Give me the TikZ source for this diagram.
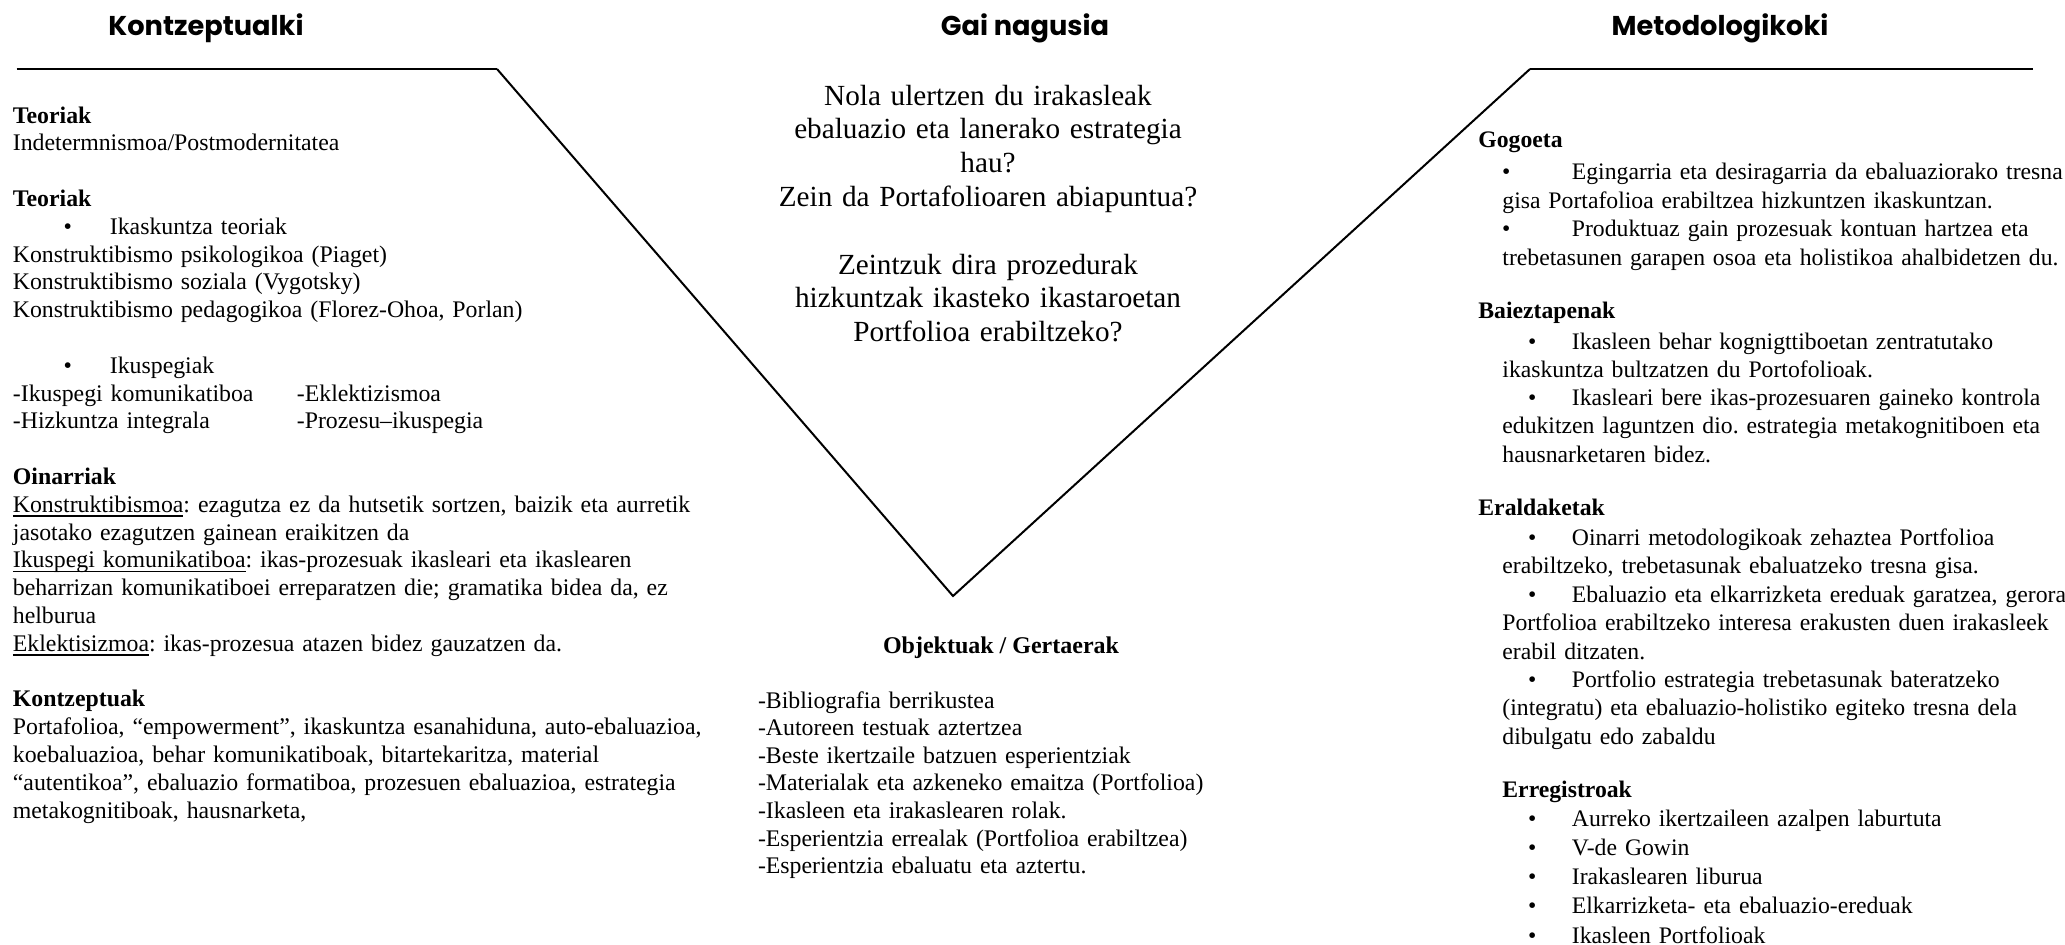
\documentclass[tikz,border=0pt]{standalone}
\usepackage{fontspec}
\setmainfont{Liberation Serif}
\newfontfamily\titlefont{Poppins}
\frenchspacing
\newlength\myulw
\newcommand\myul[1]{\leavevmode\settowidth{\myulw}{#1}\rlap{\rule[-2.2pt]{\myulw}{0.7pt}}#1}
\newcommand\lbul{\hspace*{25.4pt}\makebox[23.1pt][l]{\textbullet}}
\newcommand\rbulA{\hspace*{11.8pt}\makebox[34.95pt][l]{\textbullet}}
\newcommand\rbulB{\hspace*{24.9pt}\makebox[21.85pt][l]{\textbullet}}
\newcommand\rind{\hspace*{12pt}}
\begin{document}
\begin{tikzpicture}[x=0.5pt,y=-0.5pt,
  titletext/.style={font=\titlefont\bfseries\fontsize{13.6}{16}\selectfont, inner sep=0, anchor=base},
  bodytext/.style={font=\frenchspacing\fontsize{11.9}{13.9}\selectfont, inner sep=0, anchor=base west, align=left, text width=360pt},
  righttext/.style={inner sep=0, anchor=base west, align=left, text width=320pt},
  hline/.style={line width=1.25pt},
  vline/.style={line width=1pt}]
\fill[white] (0,0) rectangle (2065,944);
\useasboundingbox (0,0) rectangle (2065,944);

% V shape
\coordinate (A) at (16.5,69);
\coordinate (B) at (497,69);
\coordinate (C) at (953,596);
\coordinate (D) at (1530,69);
\coordinate (E) at (2033,69);
\draw[hline] (A) -- (B);
\draw[vline] (B) -- (C) -- (D);
\draw[hline] (D) -- (E);

% titles
\node[titletext] (t1) at (206,35) {Kontzeptualki};
\node[titletext] (t2) at (1025,35) {Gai nagusia};
\node[titletext] (t3) at (1720,35) {Metodologikoki};

% left column
\node[bodytext] (left) at (12.5,123) {%
\textbf{Teoriak}\\
Indetermnismoa/Postmodernitatea\\[\baselineskip]
\textbf{Teoriak}\\
\lbul Ikaskuntza teoriak\\
Konstruktibismo psikologikoa (Piaget)\\
Konstruktibismo soziala (Vygotsky)\\
Konstruktibismo pedagogikoa (Florez-Ohoa, Porlan)\\[\baselineskip]
\lbul Ikuspegiak\\
\makebox[142pt][l]{-Ikuspegi komunikatiboa}-Eklektizismoa\\
\makebox[142pt][l]{-Hizkuntza integrala}-Prozesu–ikuspegia\\[\baselineskip]
\textbf{Oinarriak}\\
\myul{Konstruktibismoa}: ezagutza ez da hutsetik sortzen, baizik eta aurretik\\
jasotako ezagutzen gainean eraikitzen da\\
\myul{Ikuspegi komunikatiboa}: ikas-prozesuak ikasleari eta ikaslearen\\
beharrizan komunikatiboei erreparatzen die; gramatika bidea da, ez\\
helburua\\
\myul{Eklektisizmoa}: ikas-prozesua atazen bidez gauzatzen da.\\[\baselineskip]
\textbf{Kontzeptuak}\\
Portafolioa, “empowerment”, ikaskuntza esanahiduna, auto-ebaluazioa,\\
koebaluazioa, behar komunikatiboak, bitartekaritza, material\\
“autentikoa”, ebaluazio formatiboa, prozesuen ebaluazioa, estrategia\\
metakognitiboak, hausnarketa,};

% middle
\node[inner sep=0, anchor=base, align=center, text width=300pt,
  font=\fontsize{14.6}{16.9}\selectfont] (q) at (988,105) {%
Nola ulertzen du irakasleak\\
ebaluazio eta lanerako estrategia\\
hau?\\
Zein da Portafolioaren abiapuntua?\\[\baselineskip]
Zeintzuk dira prozedurak\\
hizkuntzak ikasteko ikastaroetan\\
Portfolioa erabiltzeko?};

\node[inner sep=0, anchor=base, font=\bfseries\fontsize{12}{13.9}\selectfont] (obj) at (1001,653) {Objektuak / Gertaerak};
\node[bodytext, font=\fontsize{11.9}{13.8}\selectfont, text width=280pt] (objl) at (757.6,708) {%
-Bibliografia berrikustea\\
-Autoreen testuak aztertzea\\
-Beste ikertzaile batzuen esperientziak\\
-Materialak eta azkeneko emaitza (Portfolioa)\\
-Ikasleen eta irakaslearen rolak.\\
-Esperientzia errealak (Portfolioa erabiltzea)\\
-Esperientzia ebaluatu eta aztertu.};

% right column
\node[righttext, font=\fontsize{11.85}{14.3}\selectfont] (gog) at (1478,147) {%
\textbf{Gogoeta}\\[2pt]
\rbulA Egingarria eta desiragarria da ebaluaziorako tresna\\
\rind gisa Portafolioa erabiltzea hizkuntzen ikaskuntzan.\\
\rbulA Produktuaz gain prozesuak kontuan hartzea eta\\
\rind trebetasunen garapen osoa eta holistikoa ahalbidetzen du.};

\node[righttext, font=\fontsize{11.85}{14.1}\selectfont] (bai) at (1478,318) {%
\textbf{Baieztapenak}\\[1.5pt]
\rbulB Ikasleen behar kognigttiboetan zentratutako\\
\rind ikaskuntza bultzatzen du Portofolioak.\\
\rbulB Ikasleari bere ikas-prozesuaren gaineko kontrola\\
\rind edukitzen laguntzen dio. estrategia metakognitiboen eta\\
\rind hausnarketaren bidez.};

\node[righttext, font=\fontsize{11.85}{14.2}\selectfont] (era) at (1478,515) {%
\textbf{Eraldaketak}\\[1pt]
\rbulB Oinarri metodologikoak zehaztea Portfolioa\\
\rind erabiltzeko, trebetasunak ebaluatzeko tresna gisa.\\
\rbulB Ebaluazio eta elkarrizketa ereduak garatzea, gerora\\
\rind Portfolioa erabiltzeko interesa erakusten duen irakasleek\\
\rind erabil ditzaten.\\
\rbulB Portfolio estrategia trebetasunak bateratzeko\\
\rind (integratu) eta ebaluazio-holistiko egiteko tresna dela\\
\rind dibulgatu edo zabaldu};

\node[righttext, font=\fontsize{11.85}{14.6}\selectfont] (err) at (1478,797) {%
\rind\textbf{Erregistroak}\\
\rbulB Aurreko ikertzaileen azalpen laburtuta\\
\rbulB V-de Gowin\\
\rbulB Irakaslearen liburua\\
\rbulB Elkarrizketa- eta ebaluazio-ereduak\\
\rbulB Ikasleen Portfolioak};
\end{tikzpicture}
\end{document}
